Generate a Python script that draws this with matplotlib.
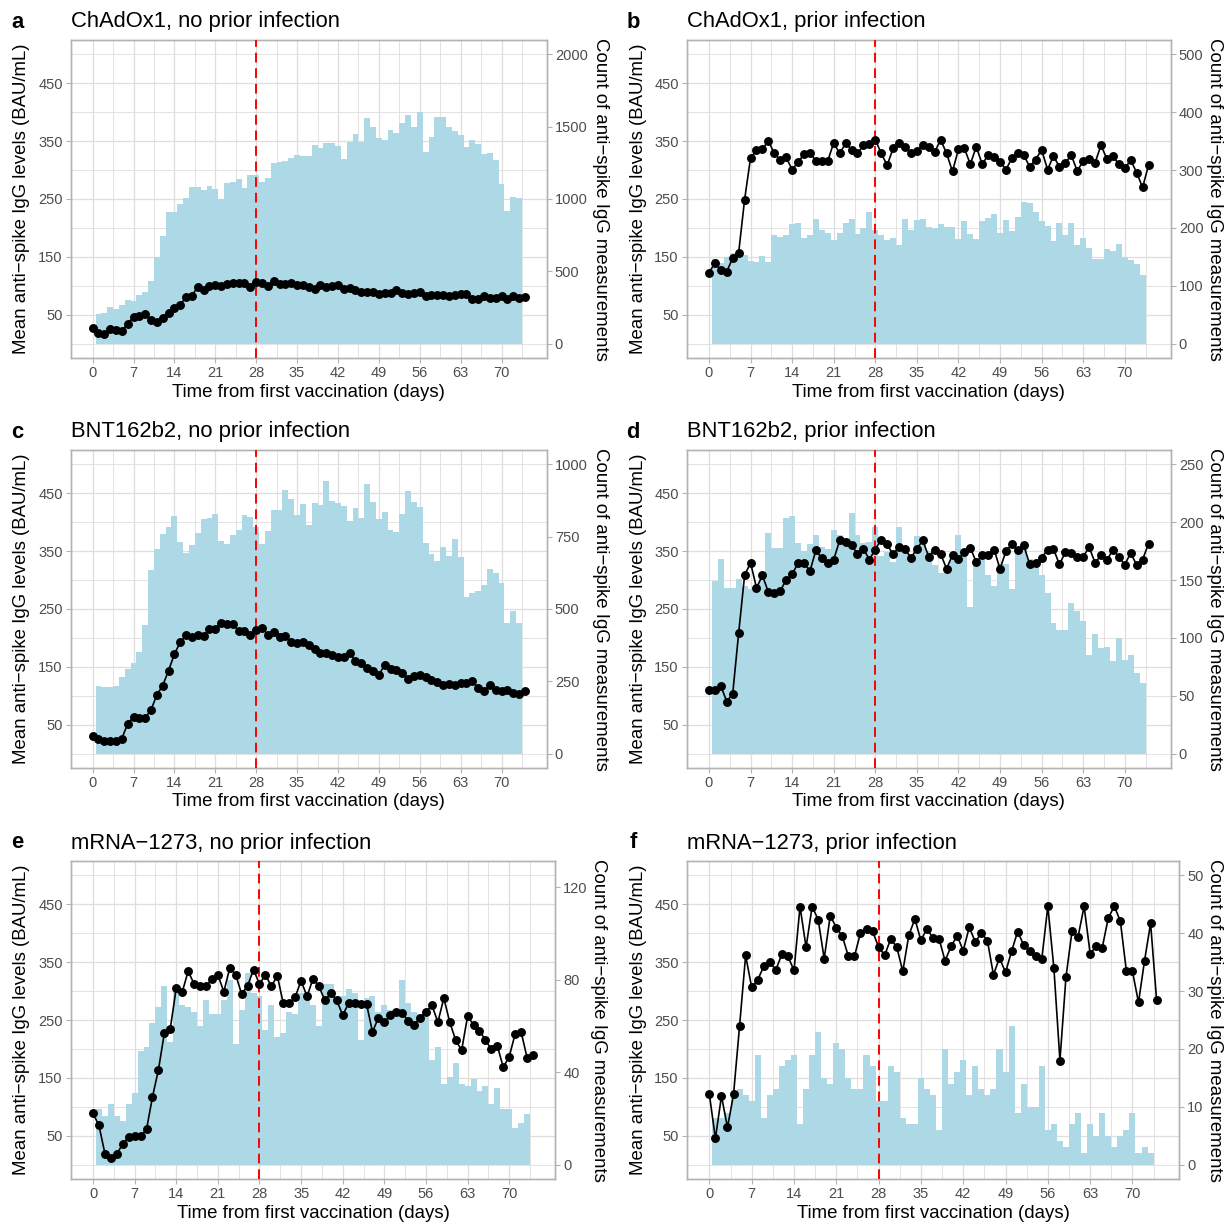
import numpy as np
import matplotlib
matplotlib.use("Agg")
import matplotlib.pyplot as plt

plt.rcParams["font.family"] = ["Liberation Sans", "DejaVu Sans"]

# ── data ──────────────────────────────────────────────────────────────────────
line_days = np.arange(0, 75)      # daily mean points, day 0..74
bar_days = np.arange(1, 74)       # daily count bars, day 1..73

a_counts = [201, 212, 251, 242, 270, 302, 293, 339, 355, 436,
            598, 741, 907, 911, 967, 1004, 1082, 1082, 1061, 1089,
            1066, 997, 1114, 1119, 1135, 1077, 1167, 1165, 1117, 1142,
            1246, 1253, 1260, 1285, 1301, 1299, 1299, 1373, 1352, 1389,
            1384, 1370, 1280, 1393, 1453, 1393, 1557, 1497, 1423, 1407,
            1476, 1460, 1525, 1580, 1500, 1601, 1324, 1430, 1564, 1564,
            1495, 1470, 1442, 1357, 1407, 1380, 1308, 1320, 1269, 1107,
            916, 1015, 1010]
a_mean = [27.7, 18.5, 16.7, 25.4, 24.2, 21.3, 34.6, 46.1, 48.4, 50.7,
          41.5, 36.9, 45.0, 53.6, 61.7, 66.9, 80.7, 83.0, 98.0, 93.4,
          99.2, 102.0, 99.2, 102.7, 105.0, 105.0, 105.0, 98.6, 107.3, 105.5,
          99.8, 109.0, 102.7, 103.8, 104.4, 101.5, 101.5, 98.0, 94.6, 101.5,
          98.6, 99.2, 102.0, 95.2, 96.3, 92.3, 88.8, 88.8, 88.8, 86.5,
          87.7, 87.7, 92.3, 87.7, 86.5, 87.7, 90.0, 82.5, 83.6, 84.2,
          84.2, 81.9, 84.8, 86.5, 85.4, 77.9, 76.7, 83.0, 79.0, 78.4,
          81.9, 77.3, 81.9, 78.4, 80.7]

b_counts = [147, 140, 149, 156, 153, 154, 143, 141, 151, 141,
            187, 185, 187, 207, 208, 182, 187, 215, 196, 192,
            179, 192, 209, 215, 190, 200, 228, 197, 187, 179,
            182, 171, 216, 196, 213, 215, 202, 199, 206, 202,
            201, 181, 212, 189, 180, 212, 217, 224, 192, 213,
            195, 219, 245, 243, 228, 212, 204, 178, 208, 187,
            208, 170, 183, 166, 147, 147, 163, 160, 172, 150,
            144, 138, 118]
b_mean = [122.3, 139.6, 126.9, 124.6, 148.2, 157.4, 249.1, 321.2, 333.9, 336.2,
          350.6, 328.7, 317.2, 321.8, 301.0, 313.7, 327.6, 329.9, 316.0, 316.0,
          316.0, 347.2, 328.7, 346.0, 335.6, 328.7, 342.6, 344.9, 352.9, 328.7,
          308.5, 337.4, 347.2, 340.3, 328.7, 333.3, 342.6, 339.1, 331.0, 352.9,
          328.7, 297.6, 336.2, 337.4, 310.3, 340.3, 310.3, 325.8, 321.8, 314.3,
          301.0, 320.6, 330.4, 325.8, 305.7, 318.3, 335.1, 301.0, 324.1, 305.7,
          312.6, 325.8, 298.2, 316.0, 319.5, 312.6, 343.1, 318.9, 324.1, 310.3,
          302.8, 317.2, 295.8, 269.9, 308.5]

c_counts = [233, 230, 230, 234, 264, 291, 314, 351, 445, 636,
            709, 759, 783, 821, 731, 692, 722, 764, 812, 814,
            829, 736, 724, 756, 774, 825, 818, 784, 724, 769,
            842, 842, 911, 880, 826, 864, 789, 866, 859, 942,
            872, 865, 855, 806, 849, 816, 933, 869, 812, 835,
            773, 768, 828, 908, 871, 852, 728, 691, 667, 716,
            684, 742, 679, 541, 555, 562, 583, 640, 624, 589,
            452, 493, 453]
c_mean = [30.6, 26.0, 21.3, 21.3, 21.3, 26.0, 51.3, 63.4, 61.7, 61.7,
          75.5, 101.5, 117.6, 143.6, 171.9, 192.6, 204.2, 201.3, 205.3, 203.0,
          215.1, 215.7, 226.1, 223.8, 223.2, 212.8, 212.8, 205.3, 214.0, 218.0,
          205.3, 209.9, 201.3, 203.6, 192.6, 190.9, 192.6, 186.9, 180.5, 174.2,
          173.6, 170.7, 167.8, 167.8, 174.7, 159.7, 156.3, 147.6, 143.6, 136.1,
          153.4, 145.9, 144.8, 140.1, 129.2, 134.4, 136.1, 133.2, 127.5, 124.0,
          119.4, 120.0, 118.2, 122.8, 122.8, 125.1, 113.6, 109.0, 118.2, 110.7,
          107.8, 109.6, 105.0, 103.2, 109.0]

d_counts = [149, 168, 143, 143, 151, 145, 142, 140, 151, 191,
            178, 178, 204, 205, 182, 175, 181, 189, 179, 177,
            193, 189, 185, 208, 189, 182, 183, 196, 171, 174,
            166, 196, 178, 171, 188, 187, 175, 163, 156, 156,
            171, 189, 177, 127, 168, 169, 154, 145, 164, 164,
            142, 179, 178, 168, 164, 154, 139, 113, 107, 107,
            130, 123, 115, 85, 103, 91, 92, 80, 100, 81,
            85, 70, 61]
d_mean = [110.7, 110.7, 116.5, 90.0, 103.8, 208.8, 308.5, 329.9, 286.6, 308.0,
          279.1, 278.0, 280.9, 301.0, 309.7, 329.9, 329.9, 315.5, 351.8, 337.4,
          329.9, 335.6, 368.5, 366.2, 360.4, 345.4, 354.1, 335.6, 352.9, 370.2,
          361.6, 344.3, 357.6, 354.1, 338.5, 354.1, 368.5, 340.3, 352.9, 345.4,
          319.5, 343.7, 336.8, 348.3, 355.8, 331.0, 342.6, 342.6, 352.9, 319.5,
          350.1, 361.6, 351.2, 359.9, 327.0, 328.7, 338.5, 352.9, 354.1, 327.0,
          348.3, 347.2, 340.3, 340.3, 357.0, 329.9, 342.6, 333.9, 352.9, 340.3,
          326.4, 347.2, 325.8, 335.6, 362.7]

e_counts = [24, 21, 26, 21, 19, 26, 31, 49, 51, 61,
            68, 77, 53, 77, 69, 68, 66, 60, 71, 65,
            65, 71, 80, 52, 67, 83, 74, 73, 58, 69,
            55, 57, 66, 65, 74, 74, 69, 60, 78, 78,
            73, 73, 76, 74, 54, 72, 73, 66, 69, 67,
            66, 80, 70, 66, 65, 64, 45, 51, 35, 38,
            44, 35, 34, 37, 32, 34, 26, 33, 24, 24,
            16, 18, 22]
e_mean = [88.4, 67.6, 19.1, 11.6, 18.5, 35.3, 48.0, 49.1, 49.1, 60.7,
          116.8, 163.6, 227.2, 235.2, 305.2, 298.2, 334.1, 312.7, 309.2, 308.1,
          321.4, 328.3, 298.8, 339.9, 328.3, 294.8, 309.2, 337.0, 312.1, 328.3,
          308.1, 326.6, 278.6, 278.6, 289.6, 317.9, 290.7, 321.4, 308.1, 283.8,
          296.5, 283.8, 258.4, 279.2, 279.2, 278.0, 278.0, 229.5, 253.7, 246.2,
          257.8, 263.6, 261.8, 249.1, 242.2, 253.2, 263.6, 275.7, 246.2, 287.8,
          246.2, 215.0, 197.7, 256.6, 241.6, 231.8, 215.0, 199.4, 205.2, 168.2,
          186.7, 226.0, 229.5, 185.0, 190.2]

f_counts = [8, 8, 9, 12, 13, 12, 11, 19, 8, 12,
            13, 17, 18, 19, 7, 13, 19, 23, 15, 14,
            21, 20, 15, 13, 13, 19, 17, 11, 11, 17,
            16, 8, 7, 7, 15, 13, 12, 6, 20, 14,
            16, 18, 12, 17, 13, 12, 13, 20, 16, 24,
            9, 14, 10, 10, 17, 6, 7, 4, 3, 7,
            9, 2, 7, 5, 9, 5, 3, 5, 6, 9,
            2, 3, 2]
f_mean = [121.4, 45.1, 118.5, 64.2, 121.4, 239.9, 361.8, 306.3, 319.6, 342.8,
          349.7, 337.0, 363.6, 360.1, 335.8, 446.2, 375.7, 446.2, 423.7, 356.0,
          430.6, 409.8, 394.8, 360.1, 360.1, 400.6, 408.1, 403.4, 376.3, 361.8,
          390.2, 376.3, 334.1, 396.5, 424.8, 387.8, 408.1, 391.3, 390.2, 352.6,
          377.4, 395.9, 369.9, 410.4, 384.9, 400.6, 387.3, 328.3, 357.2, 332.4,
          368.8, 402.9, 379.7, 369.3, 360.1, 355.5, 446.8, 339.9, 179.8, 324.3,
          403.4, 393.6, 446.8, 364.7, 377.4, 375.1, 426.6, 446.8, 420.8, 334.1,
          334.1, 280.3, 352.6, 417.3, 283.8]

tags = ["a", "b", "c", "d", "e", "f"]
titles = ["ChAdOx1, no prior infection", "ChAdOx1, prior infection",
          "BNT162b2, no prior infection", "BNT162b2, prior infection",
          "mRNA\u22121273, no prior infection", "mRNA\u22121273, prior infection"]
# count axis = BAU axis * factor
factors = [4, 1, 2, 0.5, 0.25, 0.1]
right_ticks = [[0, 500, 1000, 1500, 2000], [0, 100, 200, 300, 400, 500],
               [0, 250, 500, 750, 1000], [0, 50, 100, 150, 200, 250],
               [0, 40, 80, 120], [0, 10, 20, 30, 40, 50]]
all_counts = [a_counts, b_counts, c_counts, d_counts, e_counts, f_counts]
all_means = [a_mean, b_mean, c_mean, d_mean, e_mean, f_mean]

# ── layout in pixels (left, top, right, bottom) ───────────────────────────────
W, H = 1232, 1225
boxes = [(71, 40, 546.5, 358), (687, 40, 1170.5, 358),
         (71, 450, 546.5, 768), (687, 450, 1170.5, 768),
         (71, 861, 555, 1179), (687, 861, 1179, 1179)]
rlabel_x = [600, 1215, 600, 1215, 598, 1215]

BORDER = "#B3B3B3"
GRID = "#DEDEDE"
TXT = "#4D4D4D"
BAR = "#ADD8E6"

fig = plt.figure(figsize=(W / 100, H / 100), dpi=100)


def px(x, y):
    return x / W, 1 - y / H


for i in range(6):
    l, t, r, b = boxes[i]
    f = factors[i]
    ax = fig.add_axes([l / W, 1 - b / H, (r - l) / W, (b - t) / H])
    ax.set_xlim(-3.7, 77.7)
    ax.set_ylim(-25, 525)
    ax.set_xticks(range(0, 71, 7))
    ax.set_xticks(np.arange(3.5, 78, 7), minor=True)
    ax.set_yticks([50, 150, 250, 350, 450])
    ax.set_yticks([0, 100, 200, 300, 400, 500], minor=True)
    ax.grid(which="major", color=GRID, lw=0.9)
    ax.grid(which="minor", color=GRID, lw=0.6)
    ax.set_axisbelow(True)
    ax.tick_params(which="minor", length=0)
    ax.tick_params(which="major", length=3.5, width=0.8, color=BORDER,
                   labelcolor=TXT, labelsize=10.5, pad=2.5)
    for s in ax.spines.values():
        s.set_color(BORDER)
        s.set_linewidth(1.0)

    # counts on the secondary axis
    axc = ax.twinx()
    axc.set_ylim(-25 * f, 525 * f)
    axc.bar(bar_days, all_counts[i], width=1.0, color=BAR, linewidth=0)
    axc.set_yticks(right_ticks[i])
    axc.tick_params(length=3.5, width=0.8, color=BORDER, labelcolor=TXT,
                    labelsize=10.5, pad=2.5)
    for s in axc.spines.values():
        s.set_color(BORDER)
        s.set_linewidth(1.0)

    # mean line on top
    axt = ax.twinx()
    axt.set_ylim(-25, 525)
    axt.set_yticks([])
    for s in axt.spines.values():
        s.set_visible(False)
    axt.axvline(28, color="red", lw=1.4, ls=(0, (5, 3)))
    axt.plot(line_days, all_means[i], color="black", lw=1.2,
             marker="o", ms=5.4)

    # texts
    cx = (l + r) / 2
    cy = (t + b) / 2
    lx = 22 if l < 300 else 638
    fig.text(*px(lx, cy), "Mean anti\u2212spike IgG levels (BAU/mL)",
             rotation=90, ha="center", va="center", fontsize=13.4)
    fig.text(*px(rlabel_x[i], cy), "Count of anti\u2212spike IgG measurements",
             rotation=270, ha="center", va="center", fontsize=13.4)
    fig.text(*px(cx, b + 34), "Time from first vaccination (days)",
             ha="center", va="center", fontsize=13.4)
    fig.text(*px(l, t - 18), titles[i], ha="left", va="center", fontsize=15.8)
    fig.text(*px(lx - 5, t - 18), tags[i], ha="center", va="center",
             fontsize=15.8, fontweight="bold")

fig.savefig("out.png", dpi=100, facecolor="white")
